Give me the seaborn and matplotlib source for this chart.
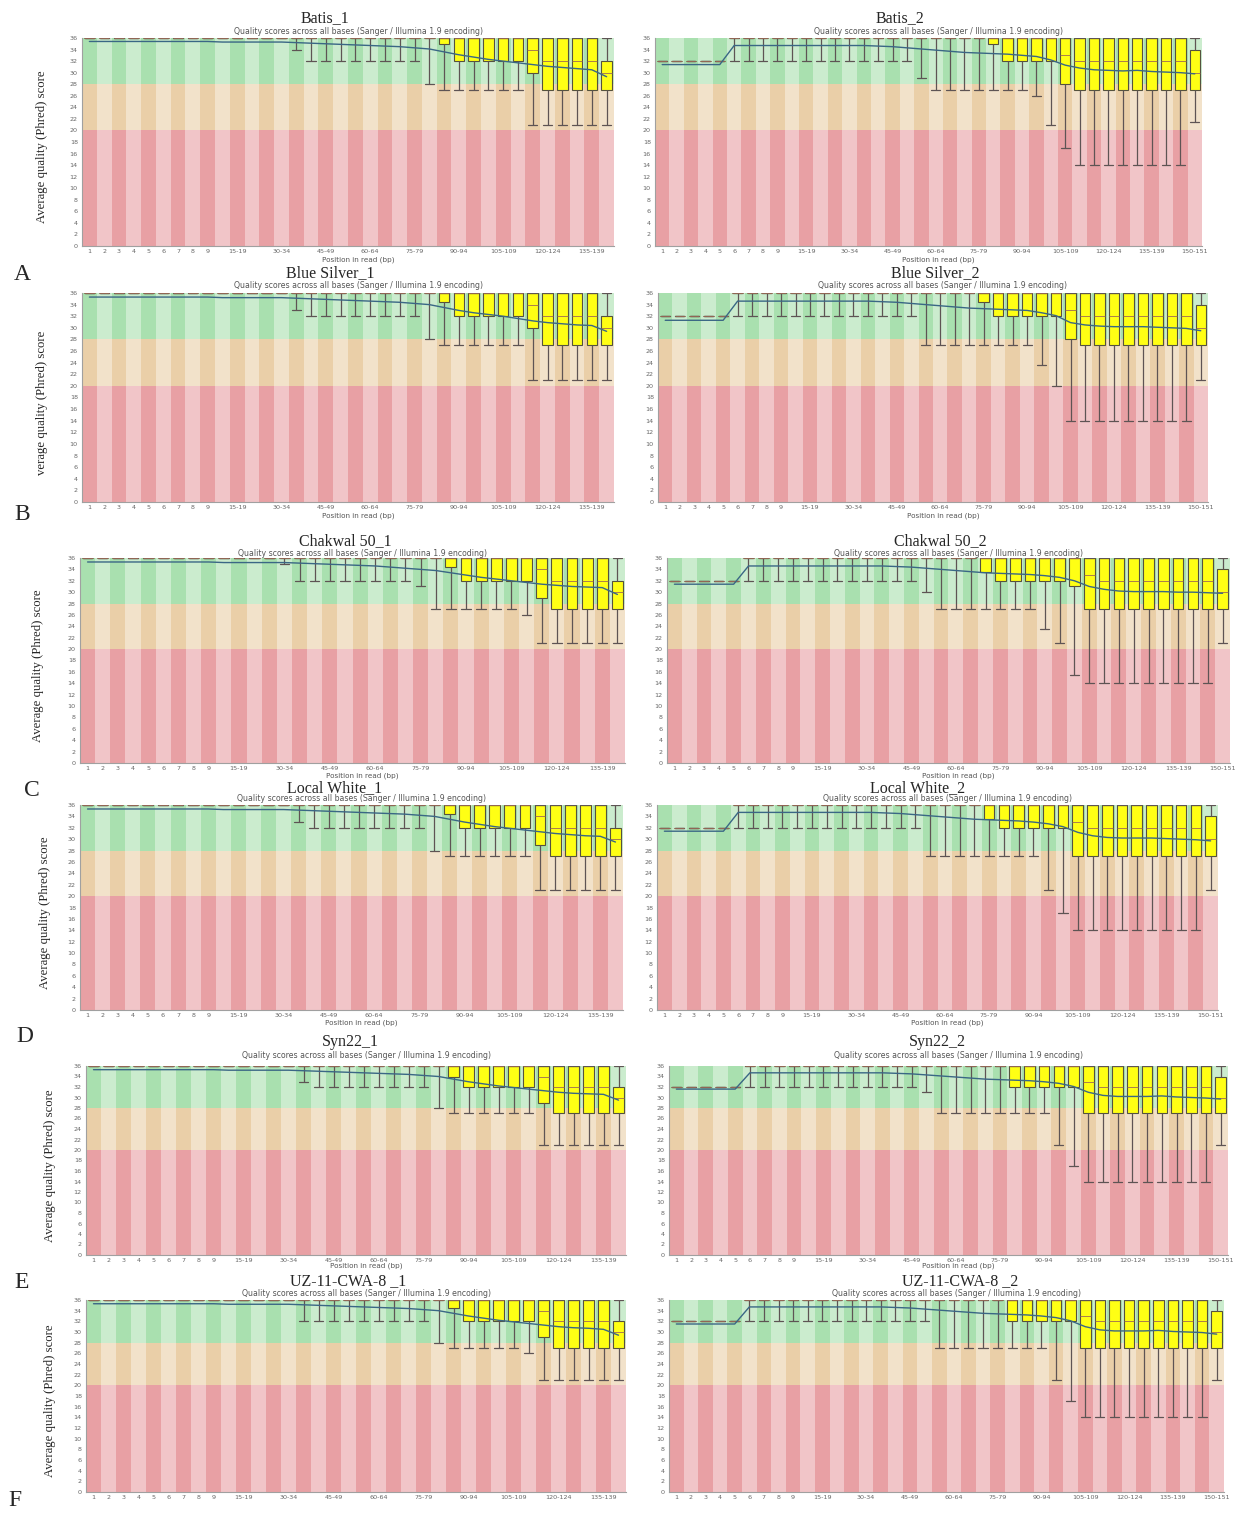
import numpy as np
import pandas as pd
import matplotlib
matplotlib.use("Agg")
import matplotlib.pyplot as plt
import seaborn as sns

# ---------------- categories ----------------
left_categories = ["1", "2", "3", "4", "5", "6", "7", "8", "9",
                   "10-14", "15-19", "20-24", "25-29", "30-34", "35-39", "40-44", "45-49",
                   "50-54", "55-59", "60-64", "65-69", "70-74", "75-79", "80-84", "85-89",
                   "90-94", "95-99", "100-104", "105-109", "110-114", "115-119", "120-124",
                   "125-129", "130-134", "135-139", "140-141"]
right_categories = ["1", "2", "3", "4", "5", "6", "7", "8", "9",
                    "10-14", "15-19", "20-24", "25-29", "30-34", "35-39", "40-44", "45-49",
                    "50-54", "55-59", "60-64", "65-69", "70-74", "75-79", "80-84", "85-89",
                    "90-94", "95-99", "100-104", "105-109", "110-114", "115-119", "120-124",
                    "125-129", "130-134", "135-139", "140-144", "145-149", "150-151"]
left_shown = ["1", "2", "3", "4", "5", "6", "7", "8", "9", "15-19", "30-34", "45-49", "60-64",
              "75-79", "90-94", "105-109", "120-124", "135-139"]
right_shown = left_shown + ["150-151"]

# ---------------- shared box statistics ----------------
left_med = [36] * 30 + [34] + [32] * 4 + [30]
left_q3 = [36] * 35 + [32]
left_high = [36] * 36
right_med = [32] * 5 + [36] * 23 + [33] + [32] * 8 + [30]
right_q3 = [32] * 5 + [36] * 32 + [34]
right_high = [32] * 5 + [36] * 33

# ---------------- per-sample statistics (left column, read 1) ----------------
batis_1_low = [36] * 14 + [34] + [32] * 8 + [28] + [27] * 6 + [21] * 6
batis_1_q1 = [36] * 24 + [35] + [32] * 5 + [30] + [27] * 5
batis_1_mean = [35.4] * 9 + [35.3] * 5 + [35.2, 35.1, 35.0, 34.9, 34.8, 34.7, 34.6, 34.5, 34.3, 34.1,
                                          33.6, 33.1, 32.7, 32.3, 32.0, 31.7, 31.4, 31.1, 30.9, 30.7, 30.5, 29.3]

blue_silver_1_low = [36] * 14 + [33] + [32] * 8 + [28] + [27] * 6 + [21] * 6
blue_silver_1_q1 = [36] * 24 + [34.5] + [32] * 5 + [30] + [27] * 5
blue_silver_1_mean = [35.3] * 9 + [35.2] * 5 + [35.1, 35.0, 34.9, 34.8, 34.7, 34.6, 34.5, 34.4, 34.2, 34.0,
                                                33.5, 33.0, 32.6, 32.3, 32.0, 31.6, 31.2, 30.9, 30.7, 30.5, 30.4, 29.4]

chakwal_50_1_low = [36] * 13 + [35] + [32] * 8 + [31] + [27] * 6 + [26] + [21] * 6
chakwal_50_1_q1 = [36] * 24 + [34.5] + [32] * 5 + [29] + [27] * 5
chakwal_50_1_mean = [35.3] * 9 + [35.2] * 5 + [35.1, 35.0, 34.9, 34.8, 34.7, 34.6, 34.4, 34.2, 34.0, 33.8,
                                               33.4, 33.0, 32.6, 32.3, 32.0, 31.7, 31.4, 31.2, 31.0, 30.9, 30.8, 29.6]

local_white_1_low = [36] * 14 + [33] + [32] * 8 + [28] + [27] * 6 + [21] * 6
local_white_1_q1 = [36] * 24 + [34.5] + [32] * 5 + [29] + [27] * 5
local_white_1_mean = [35.3] * 9 + [35.2] * 5 + [35.1, 35.0, 34.9, 34.8, 34.7, 34.6, 34.5, 34.4, 34.2, 34.0,
                                                33.5, 33.0, 32.6, 32.2, 31.9, 31.6, 31.3, 31.0, 30.8, 30.6, 30.5, 29.5]

syn22_1_low = [36] * 14 + [33] + [32] * 8 + [28] + [27] * 6 + [21] * 6
syn22_1_q1 = [36] * 24 + [34] + [32] * 5 + [29] + [27] * 5
syn22_1_mean = [35.3] * 9 + [35.2] * 5 + [35.1, 35.0, 34.9, 34.8, 34.7, 34.6, 34.5, 34.4, 34.2, 34.0,
                                          33.5, 33.0, 32.6, 32.2, 31.9, 31.6, 31.3, 31.0, 30.8, 30.7, 30.6, 29.5]

uz_1_low = [36] * 14 + [32] * 9 + [28] + [27] * 5 + [26] + [21] * 6
uz_1_q1 = [36] * 24 + [34.5] + [32] * 5 + [29] + [27] * 5
uz_1_mean = [35.3] * 9 + [35.2] * 5 + [35.1, 35.0, 34.9, 34.8, 34.7, 34.6, 34.5, 34.4, 34.2, 34.0,
                                       33.5, 33.0, 32.6, 32.2, 31.9, 31.6, 31.3, 31.0, 30.8, 30.7, 30.5, 29.4]

# ---------------- per-sample statistics (right column, read 2) ----------------
batis_2_low = [32] * 18 + [29] + [27] * 7 + [26] + [21] + [17] + [14] * 8 + [21.5]
batis_2_q1 = [32] * 5 + [36] * 18 + [35] + [32] * 4 + [28] + [27] * 9
batis_2_mean = [31.4] * 5 + [34.7] * 10 + [34.6, 34.5, 34.3, 34.1, 33.9, 33.7, 33.5, 33.4, 33.3, 33.2, 33.0, 32.8,
                                           32.2, 31.3, 30.8, 30.5, 30.4, 30.3, 30.4, 30.2, 30.1, 30.0, 29.8]

blue_silver_2_low = [32] * 18 + [27] * 8 + [23.6] + [20] + [14] * 9 + [21]
blue_silver_2_q1 = [32] * 5 + [36] * 17 + [34.5] + [32] * 5 + [28] + [27] * 9
blue_silver_2_mean = [31.3] * 5 + [34.6] * 10 + [34.5, 34.4, 34.2, 34.0, 33.8, 33.6, 33.4, 33.3, 33.2, 33.1, 33.0, 32.6,
                                                 32.1, 30.9, 30.5, 30.3, 30.2, 30.2, 30.2, 30.1, 30.0, 29.9, 29.5]

chakwal_50_2_low = [32] * 17 + [30] + [27] * 7 + [23.5] + [21] + [15.5] + [14] * 9 + [21]
chakwal_50_2_q1 = [32] * 5 + [36] * 16 + [33.5] + [32] * 5 + [31] + [27] * 10
chakwal_50_2_mean = [31.4] * 5 + [34.6] * 10 + [34.5, 34.4, 34.2, 34.0, 33.8, 33.6, 33.4, 33.3, 33.2, 33.1, 32.9, 32.6,
                                                32.0, 31.0, 30.5, 30.2, 30.1, 30.1, 30.1, 30.0, 30.0, 29.9, 29.8]

local_white_2_low = [32] * 18 + [27] * 8 + [21] + [17] + [14] * 9 + [21]
local_white_2_q1 = [32] * 5 + [36] * 17 + [33.5] + [32] * 5 + [27] * 10
local_white_2_mean = [31.4] * 5 + [34.7] * 10 + [34.6, 34.5, 34.3, 34.1, 33.9, 33.7, 33.5, 33.4, 33.3, 33.2, 33.0, 32.7,
                                                 32.2, 31.2, 30.6, 30.3, 30.2, 30.2, 30.2, 30.1, 30.0, 29.9, 29.7]

syn22_2_low = [32] * 17 + [31] + [27] * 8 + [21] + [17] + [14] * 9 + [21]
syn22_2_q1 = [32] * 5 + [36] * 18 + [32] * 5 + [27] * 10
syn22_2_mean = [31.6] * 5 + [34.7] * 10 + [34.6, 34.5, 34.3, 34.1, 33.9, 33.7, 33.5, 33.4, 33.3, 33.2, 33.0, 32.7,
                                           32.1, 31.0, 30.4, 30.2, 30.2, 30.2, 30.3, 30.1, 30.0, 29.9, 29.7]

uz_2_low = [32] * 18 + [27] * 8 + [21] + [17] + [14] * 9 + [21]
uz_2_q1 = [32] * 5 + [36] * 18 + [32] * 5 + [27] * 10
uz_2_mean = [31.5] * 5 + [34.7] * 10 + [34.6, 34.5, 34.3, 34.1, 33.9, 33.7, 33.5, 33.4, 33.3, 33.2, 33.0, 32.7,
                                        32.1, 31.0, 30.4, 30.2, 30.2, 30.2, 30.3, 30.1, 30.0, 29.9, 29.6]

# ---------------- layout ----------------
W, H = 1235, 1513
sns.set_theme(style="white")
plt.rcParams['font.family'] = ['DejaVu Sans']

fig = plt.figure(figsize=(W / 100, H / 100), dpi=100)
fig.patch.set_facecolor("white")


def px_axes(x0, x1, top, bottom):
    return fig.add_axes([x0 / W, 1 - bottom / H, (x1 - x0) / W, (bottom - top) / H])


def ftext(x, y, s, **kw):
    kw.setdefault("ha", "center")
    kw.setdefault("va", "center")
    fig.text(x / W, 1 - y / H, s, **kw)


ZONES = [(0, 20, "#e8a0a4"),
         (20, 28, "#eacfa8"),
         (28, 36, "#a9e0af")]


def boxes(ax, df):
    common = dict(data=df, x="pos", y="qual", ax=ax, native_scale=True, whis=(0, 100),
                  width=0.72, color="#ffff14", saturation=1, linecolor="#55523e",
                  linewidth=0.8, fliersize=0,
                  medianprops=dict(color="#9c6a55", lw=0.6),
                  whiskerprops=dict(color="#5e5454", lw=0.9),
                  capprops=dict(color="#5e5454", lw=0.9))
    try:
        sns.boxplot(capwidths=0.62, **common)
    except TypeError:
        sns.boxplot(**common)


def draw_panel(ax, cats, shown, low, q1, med, q3, high, mean):
    n = len(cats)
    for lo, hi, col in ZONES:
        ax.axhspan(lo, hi, color=col, lw=0, zorder=0)
    for i in range(1, n, 2):
        ax.axvspan(i - 0.5, i + 0.5, color="white", alpha=0.40, lw=0, zorder=0.5)
    df = pd.DataFrame({
        "pos": np.repeat(np.arange(n), 5),
        "qual": np.column_stack([low, q1, med, q3, high]).ravel(),
    })
    boxes(ax, df)
    sns.lineplot(x=np.arange(n), y=mean, ax=ax, color="#3a6785", lw=1.0, zorder=5)
    ax.set_xlim(-0.5, n - 0.5)
    ax.set_ylim(0, 36)
    ax.set_yticks(np.arange(0, 37, 2))
    ax.set_yticklabels([str(v) for v in range(0, 37, 2)], fontsize=4.6, color="#666666")
    ax.set_xticks([cats.index(c) for c in shown])
    ax.set_xticklabels(shown, fontsize=4.6, color="#666666")
    ax.tick_params(axis="y", length=0, pad=3)
    ax.tick_params(axis="x", length=0, pad=2)
    ax.set_xlabel("")
    ax.set_ylabel("")
    for s in ["top", "right"]:
        ax.spines[s].set_visible(False)
    for s in ["left", "bottom"]:
        ax.spines[s].set_color("#a0a0a0")
        ax.spines[s].set_linewidth(0.8)


rows = [
    dict(lt="Batis_1", rt="Batis_2", yl="Average quality (Phred) score", letter="A",
         lbox=(82, 614, 38, 246), rbox=(655, 1202, 38, 246), ty=18, sy=32, xoff=14,
         ylx=42, ltx=325, rtx=900, lpos=(22, 275),
         left=(batis_1_low, batis_1_q1, batis_1_mean), right=(batis_2_low, batis_2_q1, batis_2_mean)),
    dict(lt="Blue Silver_1", rt="Blue Silver_2", yl="verage quality (Phred) score", letter="B",
         lbox=(82, 614, 293, 502), rbox=(658, 1208, 293, 502), ty=273, sy=286, xoff=14,
         ylx=42, ltx=330, rtx=935, lpos=(22, 515),
         left=(blue_silver_1_low, blue_silver_1_q1, blue_silver_1_mean),
         right=(blue_silver_2_low, blue_silver_2_q1, blue_silver_2_mean)),
    dict(lt="Chakwal 50_1", rt="Chakwal 50_2", yl="Average quality (Phred) score", letter="C",
         lbox=(80, 625, 558, 763), rbox=(667, 1230, 558, 763), ty=541, sy=553, xoff=13,
         ylx=38, ltx=345, rtx=940, lpos=(32, 790),
         left=(chakwal_50_1_low, chakwal_50_1_q1, chakwal_50_1_mean),
         right=(chakwal_50_2_low, chakwal_50_2_q1, chakwal_50_2_mean)),
    dict(lt="Local White_1", rt="Local White_2", yl="Average quality (Phred) score", letter="D",
         lbox=(80, 623, 805, 1010), rbox=(657, 1218, 805, 1010), ty=788, sy=799, xoff=13,
         ylx=45, ltx=335, rtx=918, lpos=(25, 1037),
         left=(local_white_1_low, local_white_1_q1, local_white_1_mean),
         right=(local_white_2_low, local_white_2_q1, local_white_2_mean)),
    dict(lt="Syn22_1", rt="Syn22_2", yl="Average quality (Phred) score", letter="E",
         lbox=(86, 626, 1066, 1255), rbox=(669, 1228, 1066, 1255), ty=1042, sy=1056, xoff=11,
         ylx=50, ltx=350, rtx=937, lpos=(22, 1283),
         left=(syn22_1_low, syn22_1_q1, syn22_1_mean), right=(syn22_2_low, syn22_2_q1, syn22_2_mean)),
    dict(lt="UZ-11-CWA-8 _1", rt="UZ-11-CWA-8 _2", yl="Average quality (Phred) score", letter="F",
         lbox=(86, 626, 1300, 1492), rbox=(669, 1224, 1300, 1492), ty=1281, sy=1294, xoff=None,
         ylx=50, ltx=348, rtx=960, lpos=(15, 1500),
         left=(uz_1_low, uz_1_q1, uz_1_mean), right=(uz_2_low, uz_2_q1, uz_2_mean)),
]

SUB = "Quality scores across all bases (Sanger / Illumina 1.9 encoding)"
serif = ["Liberation Serif", "DejaVu Serif"]

for r in rows:
    axl = px_axes(*r["lbox"])
    draw_panel(axl, left_categories, left_shown, r["left"][0], r["left"][1], left_med, left_q3,
               left_high, r["left"][2])
    axr = px_axes(*r["rbox"])
    draw_panel(axr, right_categories, right_shown, r["right"][0], r["right"][1], right_med, right_q3,
               right_high, r["right"][2])

    lx0, lx1 = r["lbox"][0], r["lbox"][1]
    rx0, rx1 = r["rbox"][0], r["rbox"][1]
    top, bottom = r["lbox"][2], r["lbox"][3]
    ftext(r["ltx"], r["ty"], r["lt"], family=serif, fontsize=11.5)
    ftext(r["rtx"], r["ty"], r["rt"], family=serif, fontsize=11.5)
    ftext((lx0 + lx1) / 2 + 10, r["sy"], SUB, fontsize=5.6, color="#555555")
    ftext((rx0 + rx1) / 2 + 10, r["sy"], SUB, fontsize=5.6, color="#555555")
    if r["xoff"] is not None:
        ftext((lx0 + lx1) / 2 + 10, bottom + r["xoff"], "Position in read (bp)", fontsize=5.2, color="#555555")
        ftext((rx0 + rx1) / 2 + 10, bottom + r["xoff"], "Position in read (bp)", fontsize=5.2, color="#555555")
    ftext(r["ylx"], (top + bottom) / 2 + 5, r["yl"], family=serif, fontsize=9.2, rotation=90)
    ftext(r["lpos"][0], r["lpos"][1], r["letter"], family=serif, fontsize=17)

fig.savefig("out.png", dpi=100, facecolor="white")
